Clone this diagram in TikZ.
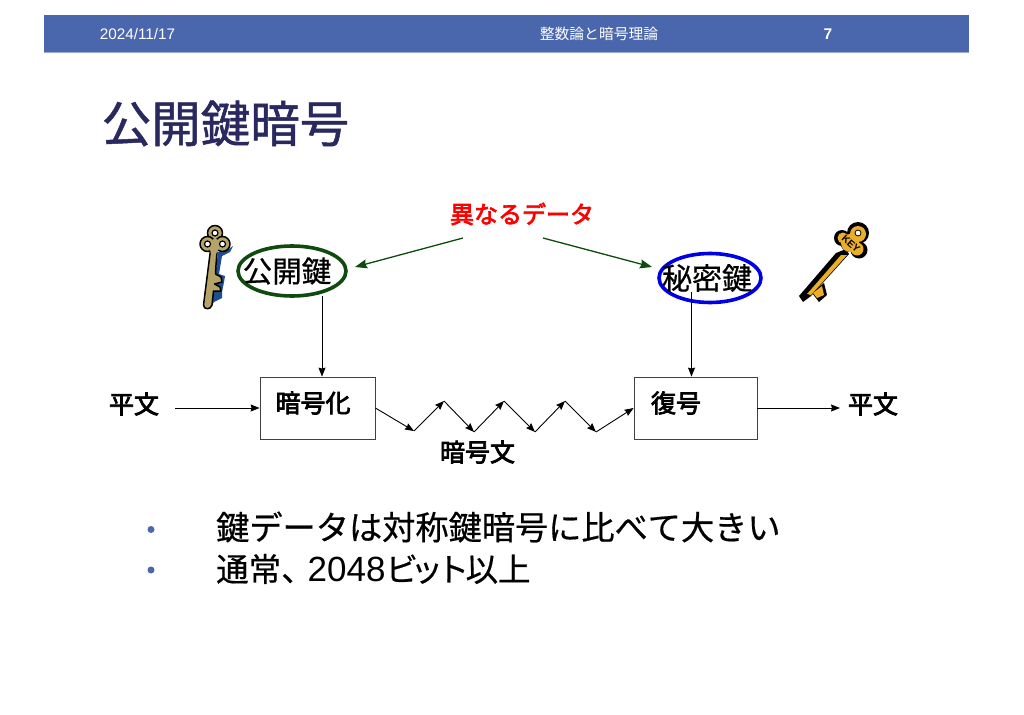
\documentclass[tikz,border=0pt]{standalone}
\usepackage{fontspec}
\setmainfont{Liberation Sans}
\newfontfamily\jp[Kerning=Off,FakeBold=0.5]{Noto Sans CJK JP}
\newfontfamily\jpt[Kerning=Off,FakeBold=1]{Noto Sans CJK JP}
\newfontfamily\jph[Kerning=Off]{Noto Sans CJK JP}
\newfontfamily\jpb[Kerning=Off,FakeBold=3]{Noto Sans CJK JP}
\newfontfamily\jpred[FakeBold=3]{Noto Sans CJK JP}
\usetikzlibrary{shapes.geometric,arrows.meta}
\definecolor{hdr}{HTML}{4A66AC}
\definecolor{ttl}{HTML}{29295F}
\definecolor{dgreen}{HTML}{0F4A0F}
\definecolor{keygold}{HTML}{B5A368}
\definecolor{keyblue}{HTML}{1F4E8C}
\definecolor{keyyellow}{HTML}{EBAE2A}
\newcommand{\fs}[1]{\fontsize{#1}{#1}\selectfont}
\tikzset{
  lbl/.style={inner sep=0pt,anchor=center,text=black,font=\fs{25}\jpb},
  flow/.style={draw=black,line width=0.9pt,-{Stealth[length=9pt,width=7pt,inset=1pt]}},
  garrow/.style={draw=dgreen,line width=1.3pt,-{Stealth[length=12pt,width=9pt,inset=1.5pt]}},
  procbox/.style={draw=black!75,line width=0.8pt,fill=white,minimum height=62pt,inner sep=0pt},
  keyell/.style={ellipse,fill=white,line width=3.6pt,inner sep=0pt},
  bul/.style={inner sep=0pt,anchor=west,text=black},
  hd/.style={inner sep=0pt,text=white,anchor=center},
  blt/.style={circle,fill=hdr,inner sep=0pt,minimum size=7pt}
}
\begin{document}
\begin{tikzpicture}[x=1pt,y=-1pt]
\useasboundingbox (0,0) rectangle (1024,714);
\fill[white] (0,0) rectangle (1024,714);
% header
\fill[hdr] (44,15) rectangle (969,52);
\draw[hdr!55,line width=0.8pt] (44,52) -- (969,52);
\node[hd,font=\fs{15.3}] (date) at (137.5,34) {2024/11/17};
\node[hd,font=\fs{14.8}\jph] (head) at (599,34) {整数論と暗号理論};
\node[hd,font=\fs{15.5}\bfseries] (pg) at (828,34) {7};
% title
\node[inner sep=0pt,text=ttl,font=\fs{49.5}\jpt] (title) at (225.5,123.5) {公開鍵暗号};
% differing data
\node[lbl,text=red,font=\fs{24}\jpred] (diff) at (522,214) {異なるデータ};
\coordinate (dl) at (463,238);
\coordinate (dr) at (543,238);
% ellipses
\node[keyell,draw=dgreen,minimum width=108pt,minimum height=50pt] (pk) at (292,271) {};
\node[inner sep=0pt,font=\fs{29.5}\jp] (pkt) at (287,271) {公開鍵};
\node[keyell,draw=blue!90!black,minimum width=102pt,minimum height=49pt] (sk) at (710,278) {};
\node[inner sep=0pt,font=\fs{30}\jp] (skt) at (707,278) {秘密鍵};
\coordinate (pka) at (355,267);
\coordinate (ska) at (652,267);
\draw[garrow] (dl) -- (pka);
\draw[garrow] (dr) -- (ska);
% boxes
\node[procbox,minimum width=115pt] (enc) at (317.5,408) {};
\node[procbox,minimum width=123pt] (dec) at (695.5,408) {};
\node[lbl] (enct) at (313,403) {暗号化};
\node[lbl] (dect) at (676,403) {復号};
\node[lbl] (p1) at (134,404) {平文};
\node[lbl] (p2) at (873,404) {平文};
\node[lbl] (ct) at (477.5,452) {暗号文};
% flows
\coordinate (pkb) at (322,296);
\coordinate (skb) at (691.5,292);
\draw[flow] (pkb) -- (pkb |- enc.north);
\draw[flow] (skb) -- (skb |- dec.north);
\coordinate (in) at (175,408);
\coordinate (out) at (840,408);
\draw[flow] (in) -- (enc.west);
\draw[flow] (dec.east) -- (out);
\coordinate (z1) at (414,431);
\coordinate (z2) at (444,401);
\coordinate (z3) at (474,432);
\coordinate (z4) at (504,401);
\coordinate (z5) at (535,432);
\coordinate (z6) at (565,401);
\coordinate (z7) at (596,432);
\draw[flow] (enc.east) -- (z1);
\draw[flow] (z1) -- (z2);
\draw[flow] (z2) -- (z3);
\draw[flow] (z3) -- (z4);
\draw[flow] (z4) -- (z5);
\draw[flow] (z5) -- (z6);
\draw[flow] (z6) -- (z7);
\draw[flow] (z7) -- (dec.west);
% left key
\begin{scope}[line join=round]
\fill[keyblue] (218,252) -- (226,251) -- (233,246) -- (230,252) -- (222,256) -- (219,274) -- (225,276) -- (224,282) -- (222,292) -- (222,298) -- (214,302) -- (212,305) -- cycle;
\draw[black,line width=1.5pt,fill=keygold] (215,233) circle (7.5pt);
\draw[black,line width=1.5pt,fill=keygold] (207.5,244) circle (7.5pt);
\draw[black,line width=1.5pt,fill=keygold] (222.5,244) circle (7.5pt);
\draw[black,line width=1.5pt,fill=keygold] (210.5,250) -- (203.5,305) .. controls (203.5,310) and (211,310) .. (212,305) -- (213.5,291) -- (221,291) -- (220,287) -- (214.5,284) -- (222,282) -- (221,277) -- (215.5,274) -- (216,265) -- (217,252) -- cycle;
\fill[keygold] (209,245) -- (215,237) -- (221,245) -- (216,254) -- (211,254) -- cycle;
\draw[black,line width=1.2pt,fill=white] (215,233) circle (3pt);
\draw[black,line width=1.2pt,fill=white] (207.5,244) circle (3pt);
\draw[black,line width=1.2pt,fill=white] (222.5,244) circle (3pt);
% right key
\fill[black] (799,296) -- (836,253) -- (846,249) -- (849,254) -- (811,296) -- (803,302) -- cycle;
\fill[black] (812,293) -- (824,283) -- (827,295) -- (819,302) -- cycle;
\fill[black] (858,233) circle (11pt);
\fill[black] (842,238) circle (8pt);
\fill[black] (859,250) circle (8.5pt);
\fill[black] (850,242) circle (10pt);
\fill[keyyellow] (807,294) -- (841,255) -- (847,255) -- (811,295) -- cycle;
\fill[keyyellow] (813,293) -- (822,286) -- (824,295) -- (817,298) -- cycle;
\fill[keyyellow] (858,234) circle (8pt);
\fill[keyyellow] (843,238) circle (5.5pt);
\fill[keyyellow] (857,249) circle (6.5pt);
\fill[keyyellow] (850,243) circle (9pt);
\draw[black,line width=0.8pt,fill=white] (858,233) circle (3pt);
\node[inner sep=0pt,rotate=-42,font=\fs{10}\bfseries,text=black] (keytxt) at (851,244) {KEY};
\end{scope}
% bullets
\node[blt] (b1) at (151,529.5) {};
\node[blt] (b2) at (151,570) {};
\node[bul,font=\fs{33.2}\jp] (t1) at (216,527) {鍵データは対称鍵暗号に比べて大きい};
\node[bul,font=\fs{32.5}\jp] (t2) at (216,569) {通常、\kern-6pt{\fs{35}\rmfamily 2048}ビ\kern-7.5ptッ\kern-6.5ptト\kern-3.5pt 以上};
\end{tikzpicture}
\end{document}
